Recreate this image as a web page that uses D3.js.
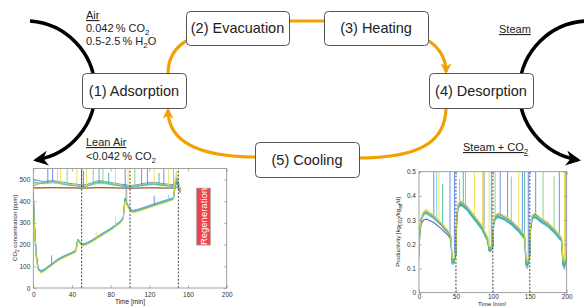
<!DOCTYPE html>
<html>
<head>
<meta charset="utf-8">
<script src="https://cdn.jsdelivr.net/npm/d3@7"></script>
<style>
  body { margin: 0; background: #fff; }
  svg { display: block; font-family: "Liberation Sans", Arial, sans-serif; }
</style>
</head>
<body>
<div id="chart"></div>
<script>
// ---- data: CO2 concentration (left plot) ----
var tOut = [0,1,3,5,8,12,16,20,25,30,35,40,44,45,46,48,50,53,60,70,80,90,93,94,95,97,100,103,110,120,130,140,145,146,148,150,151,152];
var out1 = [435,310,160,92,80,88,102,114,132,144,154,164,174,198,225,214,205,204,219,248,275,308,325,375,415,390,366,357,365,380,395,409,416,455,505,485,472,458];
var out2 = [428,290,145,85,72,82,96,108,126,138,148,158,168,192,218,207,197,197,212,240,267,300,318,366,406,382,357,349,357,372,387,401,409,447,495,478,468,452];
var out3 = [432,295,148,86,74,83,97,111,129,141,151,161,171,196,222,211,201,199,214,242,269,302,320,368,408,384,359,351,359,374,389,403,411,452,498,482,471,456];
var out4 = [425,280,140,80,68,78,92,105,122,135,146,156,165,190,215,204,195,195,210,238,265,298,315,362,402,378,354,346,354,369,384,398,406,460,540,490,475,450];
var out5 = [438,305,155,90,78,87,100,113,131,143,153,163,172,197,223,212,202,202,217,245,272,305,322,372,412,387,362,355,362,377,392,406,414,448,492,476,468,454];
var out6 = [433,298,152,89,77,86,99,112,130,142,152,162,173,199,224,213,203,203,218,246,273,306,323,373,413,388,364,356,363,378,393,407,415,453,502,483,470,457];

var tIn = [0,5,10,15,20,25,30,35,40,45,50,55,60,65,70,75,80,85,90,95,100,105,110,115,120,125,130,135,140,145,148,150,152];
var in1 = [470,478,485,490,492,488,480,476,473,470,466,468,478,488,490,486,480,476,472,470,466,468,472,476,480,481,478,475,472,470,480,475,440];
var in2 = [475,480,487,492,495,490,483,478,475,472,468,470,480,490,493,488,482,478,474,472,468,470,474,478,482,484,480,476,474,472,520,480,445];
var in3 = [500,495,490,493,495,492,488,484,480,478,474,476,484,492,494,490,486,482,478,476,472,474,478,482,486,487,484,480,478,476,490,480,450];
var in4 = [490,485,480,482,484,482,478,474,472,470,468,469,475,480,482,480,476,473,470,468,465,466,469,472,475,476,474,471,469,468,475,470,445];
var in5 = [462,462,462,463,463,463,462,462,462,461,461,461,462,463,463,463,462,462,461,461,460,460,461,462,462,462,462,461,461,461,465,462,440];
var in6 = [458,458,459,459,460,460,459,459,459,458,458,458,459,460,460,460,459,459,458,458,458,458,458,459,459,459,459,458,458,458,462,460,438];
var in7 = [485,482,484,487,489,486,481,477,474,471,467,469,477,485,487,484,479,475,471,469,466,467,471,474,478,479,476,473,471,469,478,472,442];

// spikes: [time, from, to, colour index]
var spikesCO2 = [[15,485,550,0],[20,490,550,0],[25,488,550,3],[28,485,550,3],[35,478,550,2],[45,470,550,3],[50,466,550,4],[52,467,540,0],
  [55,468,550,3],[62,480,550,2],[68,490,550,0],[72,488,550,2],[78,484,530,1],[85,476,550,3],[95,470,550,0],[98,470,550,3],
  [105,468,550,2],[112,474,550,0],[118,480,550,0],[125,481,550,3],[130,478,530,1],[135,475,550,0],[140,472,550,3],[145,470,550,2],
  [19,110,150,0],[44,170,190,3],[65,228,260,3],[85,285,330,3],[96,400,470,0],[97,390,450,3],[125,382,425,0],[140,404,430,5]];

var ticksTime = [0,40,80,120,160,200];
var ticksCO2 = [0,100,200,300,400,500];
var cycleEnds = [50,100,150];
var regenBox = [169, 183, 198, 460];

// ---- data: productivity (right plot) ----
var tProd = [0,1,3,6,10,20,30,40,43,45,47,49, 50,51,53,57,65,75,85,93,95,97,99, 100,101,103,107,115,125,135,143,145,147,149, 150,151,153,157,165,175,185,193,195,197,200];
var prod1 = [0.16,0.26,0.31,0.33,0.335,0.315,0.285,0.25,0.235,0.14,0.135,0.16, 0.165,0.31,0.365,0.375,0.355,0.315,0.275,0.225,0.185,0.185,0.195, 0.205,0.29,0.315,0.325,0.315,0.295,0.265,0.235,0.135,0.125,0.155, 0.165,0.27,0.315,0.325,0.305,0.285,0.255,0.225,0.135,0.125,0.155];
var prod2 = [0.15,0.25,0.30,0.325,0.33,0.31,0.28,0.245,0.225,0.125,0.125,0.15, 0.155,0.30,0.355,0.365,0.345,0.305,0.265,0.215,0.175,0.175,0.185, 0.195,0.28,0.305,0.315,0.305,0.285,0.255,0.225,0.115,0.11,0.145, 0.155,0.26,0.305,0.315,0.295,0.275,0.245,0.215,0.115,0.105,0.145];
var prod3 = [0.155,0.255,0.305,0.325,0.335,0.315,0.283,0.248,0.23,0.13,0.13,0.155, 0.16,0.305,0.36,0.37,0.35,0.31,0.27,0.22,0.18,0.18,0.19, 0.20,0.285,0.31,0.32,0.31,0.29,0.26,0.23,0.13,0.12,0.15, 0.16,0.265,0.31,0.32,0.30,0.28,0.25,0.22,0.13,0.12,0.15];
var prod4 = [0.14,0.26,0.31,0.335,0.345,0.32,0.29,0.255,0.24,0.145,0.14,0.165, 0.17,0.315,0.37,0.38,0.36,0.32,0.28,0.23,0.19,0.19,0.20, 0.21,0.295,0.32,0.33,0.32,0.30,0.27,0.24,0.14,0.13,0.16, 0.17,0.275,0.32,0.33,0.31,0.29,0.26,0.23,0.14,0.13,0.16];
var prod5 = [0.15,0.24,0.285,0.30,0.305,0.29,0.265,0.235,0.22,0.12,0.12,0.15, 0.155,0.30,0.355,0.365,0.345,0.305,0.265,0.215,0.175,0.175,0.185, 0.195,0.28,0.305,0.315,0.305,0.285,0.255,0.225,0.12,0.115,0.145, 0.155,0.26,0.305,0.315,0.295,0.275,0.245,0.215,0.12,0.115,0.145];
var prod6 = [0.15,0.25,0.30,0.32,0.325,0.305,0.278,0.242,0.225,0.12,0.12,0.148, 0.155,0.295,0.35,0.36,0.34,0.30,0.26,0.21,0.17,0.17,0.18, 0.19,0.275,0.30,0.31,0.30,0.28,0.25,0.22,0.105,0.10,0.14, 0.15,0.255,0.30,0.31,0.29,0.27,0.24,0.21,0.11,0.10,0.14];

var spikesProd = [[20,0.31,0.5,0],[24,0.30,0.5,5],[27,0.29,0.5,3],[32,0.28,0.45,1],[42,0.24,0.5,0],[48,0.14,0.5,0],
  [55,0.37,0.47,2],[60,0.36,0.5,1],[63,0.36,0.5,2],[75,0.31,0.5,3],[86,0.27,0.5,3],[88,0.26,0.5,0],[95,0.19,0.5,3],[98,0.19,0.5,1],
  [103,0.31,0.5,2],[110,0.32,0.5,0],[120,0.30,0.5,0],[125,0.29,0.48,2],[135,0.26,0.5,3],[140,0.25,0.5,0],[143,0.23,0.5,1],[148,0.14,0.5,0],
  [158,0.32,0.5,0],[168,0.30,0.5,2],[183,0.26,0.48,2],[190,0.24,0.5,0],[197,0.13,0.5,3],[199,0.15,0.5,0]];

var ticksTimeProd = [0,50,100,150,200];
var ticksProd = [0,0.1,0.2,0.3,0.4,0.5];

var colors = ['#4b74e0', '#25a99c', '#6cc870', '#ecdc30', '#5a3f9c', '#5ccbe8', '#d9a25a'];

// ---- schematic ----
var W = 584, H = 306;
var svg = d3.select("#chart").append("svg").attr("width", W).attr("height", H);

var defs = svg.append("defs");
function arrowMarker(id, color, size) {
  defs.append("marker")
    .attr("id", id)
    .attr("viewBox", "0 -5 10 10")
    .attr("refX", 8).attr("refY", 0)
    .attr("markerUnits", "userSpaceOnUse")
    .attr("markerWidth", size).attr("markerHeight", size)
    .attr("orient", "auto")
    .append("path")
    .attr("d", "M0,-5 L10,0 L0,5 L3,0 Z")
    .attr("fill", color);
}
arrowMarker("arrOrange", "#f3a100", 11);
arrowMarker("arrBlack", "#000", 15);

var orange = "#f3a100";
var orangePaths = [
  { d: "M168,74 C168,58 175,47 188,40", arrow: false },
  { d: "M288,21 L326,21", arrow: false },
  { d: "M426,39 C439,47 446,57 446,72", arrow: true },
  { d: "M446,107 C446,142 420,158 357,158", arrow: false },
  { d: "M257,157 C200,157 168,142 168,110", arrow: true }
];
svg.selectAll(".flow").data(orangePaths).enter().append("path")
  .attr("class", "flow")
  .attr("d", function (d) { return d.d; })
  .attr("fill", "none")
  .attr("stroke", orange)
  .attr("stroke-width", 3.2)
  .attr("marker-end", function (d) { return d.arrow ? "url(#arrOrange)" : null; });

// black arcs for gas in/out
svg.append("path")
  .attr("d", "M30,21 A70,70 0 0 1 36,160")
  .attr("fill", "none").attr("stroke", "#000").attr("stroke-width", 3.5)
  .attr("marker-end", "url(#arrBlack)");
svg.append("path")
  .attr("d", "M586,21 A70,70 0 0 0 578,160")
  .attr("fill", "none").attr("stroke", "#000").attr("stroke-width", 3.5)
  .attr("marker-end", "url(#arrBlack)");

var boxes = [
  { label: "(1) Adsorption", x: 82, y: 73, w: 104, h: 35 },
  { label: "(2) Evacuation", x: 186, y: 11, w: 103, h: 34 },
  { label: "(3) Heating", x: 324, y: 11, w: 104, h: 34 },
  { label: "(4) Desorption", x: 429, y: 73, w: 104, h: 35 },
  { label: "(5) Cooling", x: 255, y: 142, w: 104, h: 35 }
];
var bx = svg.selectAll(".step").data(boxes).enter().append("g").attr("class", "step");
bx.append("rect")
  .attr("x", function (d) { return d.x + 0.5; })
  .attr("y", function (d) { return d.y + 0.5; })
  .attr("width", function (d) { return d.w; })
  .attr("height", function (d) { return d.h; })
  .attr("rx", 4)
  .attr("fill", "#fff").attr("stroke", "#555").attr("stroke-width", 1);
bx.append("text")
  .attr("x", function (d) { return d.x + d.w / 2; })
  .attr("y", function (d) { return d.y + d.h / 2 + 5; })
  .attr("text-anchor", "middle")
  .attr("font-size", 14.5)
  .attr("fill", "#222")
  .text(function (d) { return d.label; });

// stream annotations
function note(x, y, parts, underline) {
  var t = svg.append("text").attr("x", x).attr("y", y).attr("font-size", 11).attr("fill", "#222");
  parts.forEach(function (p) {
    var s = t.append("tspan").text(p[0]);
    if (p[1] === "sub") s.attr("font-size", 8).attr("dy", 3);
    if (p[1] === "up") s.attr("dy", -3);
  });
  if (underline) t.attr("text-decoration", "underline");
  return t;
}
note(86, 19, [["Air"]], true);
note(86, 32, [["0.042\u2009% CO"], ["2", "sub"]]);
note(86, 45, [["0.5-2.5\u2009% H"], ["2", "sub"], ["O", "up"]]);
note(86, 146, [["Lean Air"]], true);
note(86, 160, [["<0.042\u2009% CO"], ["2", "sub"]]);
note(499, 33, [["Steam"]], true);
note(463, 151, [["Steam + CO"], ["2", "sub"]], true);

// ---- plot helpers ----
function framePlot(x, y, id) {
  var g = svg.append("g");
  var x0 = x.range()[0], x1 = x.range()[1], y0 = y.range()[0], y1 = y.range()[1];
  g.append("rect").attr("x", x0).attr("y", y1).attr("width", x1 - x0).attr("height", y0 - y1).attr("fill", "#fff");
  defs.append("clipPath").attr("id", id).append("rect")
    .attr("x", x0).attr("y", y1).attr("width", x1 - x0).attr("height", y0 - y1);
  return g;
}
function finishPlot(x, y, xt, yt, fmtY, padX) {
  var g = svg.append("g");
  var x0 = x.range()[0], x1 = x.range()[1], y0 = y.range()[0], y1 = y.range()[1];
  g.append("rect").attr("x", x0).attr("y", y1).attr("width", x1 - x0).attr("height", y0 - y1)
    .attr("fill", "none").attr("stroke", "#8a8a8a").attr("stroke-width", 0.8);
  g.append("g").attr("transform", "translate(0," + y0 + ")")
    .call(d3.axisBottom(x).tickValues(xt).tickSize(-3).tickPadding(padX))
    .call(function (a) { a.select(".domain").remove(); });
  g.append("g").attr("transform", "translate(0," + y1 + ")")
    .call(d3.axisTop(x).tickValues(xt).tickSize(-3).tickFormat(""))
    .call(function (a) { a.select(".domain").remove(); });
  g.append("g").attr("transform", "translate(" + x0 + ",0)")
    .call(d3.axisLeft(y).tickValues(yt).tickSize(-3).tickPadding(3).tickFormat(fmtY))
    .call(function (a) { a.select(".domain").remove(); });
  g.append("g").attr("transform", "translate(" + x1 + ",0)")
    .call(d3.axisRight(y).tickValues(yt).tickSize(-3).tickFormat(""))
    .call(function (a) { a.select(".domain").remove(); });
  g.selectAll(".tick line").attr("stroke", "#8a8a8a").attr("stroke-width", 0.6);
  g.selectAll(".tick text").attr("font-size", 6.5).attr("fill", "#333").attr("font-family", "Liberation Sans, sans-serif");
  return g;
}

function drawSeries(g, x, y, t, series, widths, op) {
  var line = d3.line().x(function (d, i) { return x(t[i]); }).y(function (d) { return y(d); });
  series.forEach(function (s) {
    g.append("path").attr("d", line(s.v))
      .attr("fill", "none").attr("stroke", colors[s.c])
      .attr("stroke-width", widths).attr("stroke-opacity", op)
      .attr("stroke-linejoin", "round");
  });
}
function drawSpikes(g, x, y, data) {
  g.selectAll(null).data(data).enter().append("line")
    .attr("x1", function (d) { return x(d[0]); }).attr("x2", function (d) { return x(d[0]); })
    .attr("y1", function (d) { return y(d[1]); }).attr("y2", function (d) { return y(d[2]); })
    .attr("stroke", function (d) { return colors[d[3]]; })
    .attr("stroke-width", 1).attr("stroke-opacity", 0.8);
}
function drawCycles(g, x, y, data) {
  g.selectAll(null).data(data).enter().append("line")
    .attr("x1", function (d) { return x(d); }).attr("x2", function (d) { return x(d); })
    .attr("y1", y.range()[0]).attr("y2", y.range()[1])
    .attr("stroke", "#444").attr("stroke-width", 1).attr("stroke-dasharray", "2,1.6");
}

// ---- left plot: CO2 concentration ----
var xA = d3.scaleLinear().domain([0, 200]).range([33.3, 226.7]);
var yA = d3.scaleLinear().domain([0, 550]).range([288, 168.6]);
framePlot(xA, yA, "clipA");
var gA = svg.append("g").attr("clip-path", "url(#clipA)");
drawSeries(gA, xA, yA, tIn, [
  { v: in6, c: 6 }, { v: in5, c: 4 }, { v: in4, c: 5 }, { v: in3, c: 0 }, { v: in7, c: 1 }, { v: in2, c: 3 }, { v: in1, c: 2 }
], 1, 0.85);
drawSeries(gA, xA, yA, tOut, [
  { v: out5, c: 4 }, { v: out1, c: 0 }, { v: out6, c: 5 }, { v: out2, c: 1 }, { v: out3, c: 2 }, { v: out4, c: 3 }
], 1, 0.85);
drawSpikes(gA, xA, yA, spikesCO2);
drawCycles(gA, xA, yA, cycleEnds);
var rg = svg.append("g");
rg.append("rect")
  .attr("x", xA(regenBox[0])).attr("y", yA(regenBox[3]))
  .attr("width", xA(regenBox[1]) - xA(regenBox[0]))
  .attr("height", yA(regenBox[2]) - yA(regenBox[3]))
  .attr("fill", "#f0424a").attr("stroke", "#999").attr("stroke-width", 0.8);
rg.append("text")
  .attr("transform", "translate(" + (xA((regenBox[0] + regenBox[1]) / 2) + 3.5) + "," + yA((regenBox[2] + regenBox[3]) / 2) + ") rotate(-90)")
  .attr("text-anchor", "middle").attr("font-size", 9.5).attr("fill", "#fff")
  .text("Regeneration");
finishPlot(xA, yA, ticksTime, ticksCO2, d3.format("d"), 4);
svg.append("text").attr("x", 130).attr("y", 304).attr("text-anchor", "middle")
  .attr("font-size", 6.5).attr("fill", "#222").text("Time [min]");
var ylA = svg.append("text").attr("transform", "translate(17,228) rotate(-90)")
  .attr("text-anchor", "middle").attr("font-size", 6).attr("fill", "#222");
ylA.append("tspan").text("CO");
ylA.append("tspan").attr("font-size", 4.5).attr("dy", 1.5).text("2");
ylA.append("tspan").attr("dy", -1.5).text(" concentration [ppm]");

// ---- right plot: productivity ----
var xB = d3.scaleLinear().domain([0, 200]).range([419, 566.7]);
var yB = d3.scaleLinear().domain([0, 0.5]).range([292.7, 171.7]);
framePlot(xB, yB, "clipB");
var gB = svg.append("g").attr("clip-path", "url(#clipB)");
drawSpikes(gB, xB, yB, spikesProd);
drawSeries(gB, xB, yB, tProd, [
  { v: prod5, c: 4 }, { v: prod6, c: 5 }, { v: prod2, c: 1 }, { v: prod1, c: 0 }, { v: prod3, c: 2 }, { v: prod4, c: 3 }
], 1.1, 0.85);
drawCycles(gB, xB, yB, cycleEnds);
finishPlot(xB, yB, ticksTimeProd, ticksProd, function (d) { return d === 0 ? "0" : d3.format(".1f")(d); }, 1.5);
svg.append("text").attr("x", 492).attr("y", 305.5).attr("text-anchor", "middle")
  .attr("font-size", 6).attr("fill", "#222").text("Time [min]");
var ylB = svg.append("text").attr("transform", "translate(400,232) rotate(-90)")
  .attr("text-anchor", "middle").attr("font-size", 6).attr("fill", "#222");
ylB.append("tspan").text("Productivity [kg");
ylB.append("tspan").attr("font-size", 4.5).attr("dy", 1.5).text("CO2");
ylB.append("tspan").attr("dy", -1.5).text("/kg");
ylB.append("tspan").attr("font-size", 4.5).attr("dy", 1.5).text("ad");
ylB.append("tspan").attr("dy", -1.5).text("/d]");
</script>
</body>
</html>
